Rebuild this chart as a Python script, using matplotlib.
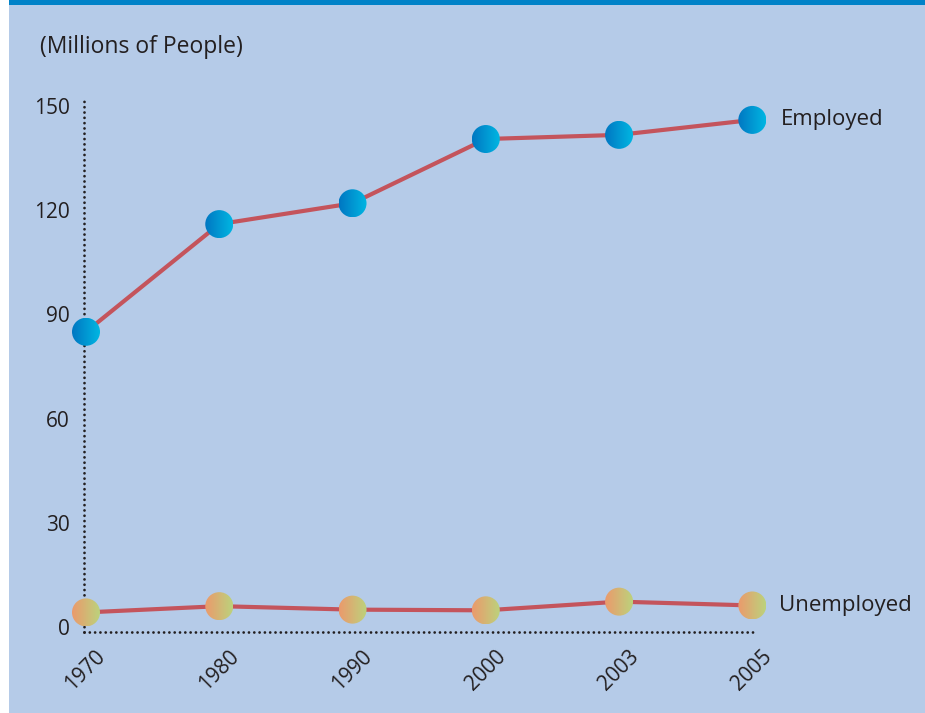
import numpy as np
import matplotlib
matplotlib.use('Agg')
import matplotlib.pyplot as plt
from matplotlib.patches import Ellipse, Rectangle
from matplotlib.colors import LinearSegmentedColormap
import matplotlib.transforms as mtransforms

plt.rcParams['font.family'] = ['Open Sans', 'DejaVu Sans']

# data (millions of people)
years = ['1970', '1980', '1990', '2000', '2003', '2005']
employed = [85, 116, 122, 140.5, 141.7, 146]
unemployed = [4.2, 6.0, 5.0, 4.8, 7.3, 6.2]
yticks = [0, 30, 60, 90, 120, 150]

bg = '#b5cbe8'
line_col = '#c4545c'
text_col = '#231f20'

W, H = 925, 713
fig = plt.figure(figsize=(W / 100, H / 100), dpi=100)
fig.patch.set_facecolor('white')

# background panel and the top stripe
fig.patches.append(Rectangle((9 / W, 0), 1 - 9 / W, 1, transform=fig.transFigure,
                             facecolor=bg, edgecolor='none', zorder=-2))
fig.patches.append(Rectangle((9 / W, 1 - 5 / H), 1 - 9 / W, 5 / H, transform=fig.transFigure,
                             facecolor='#0082c8', edgecolor='none', zorder=-1))

ax = fig.add_axes([84 / W, 1 - 632 / H, 671 / W, 535 / H])
ax.set_facecolor('none')
x = np.arange(len(years))
ax.set_xlim(-0.015, 5.02)
ax.set_ylim(-1.44, 152.6)

ax.plot(x, employed, color=line_col, lw=3, zorder=2, solid_capstyle='round')
ax.plot(x, unemployed, color=line_col, lw=3, zorder=2, solid_capstyle='round')

# gradient circle markers
blue_cm = LinearSegmentedColormap.from_list('b', ['#0077c2', '#00b6e2'])
warm_cm = LinearSegmentedColormap.from_list('w', ['#eb9a6c', '#bcd27c'])
inv = ax.transData.inverted()
r_px = 14
p0 = inv.transform((0, 0))
p1 = inv.transform((r_px, r_px))
rx, ry = p1[0] - p0[0], p1[1] - p0[1]
grad = np.linspace(0, 1, 64).reshape(1, -1)

def gradient_dot(cx, cy, cmap):
    im = ax.imshow(grad, cmap=cmap, extent=(cx - rx, cx + rx, cy - ry, cy + ry),
                   aspect='auto', interpolation='bilinear', zorder=3)
    clip = Ellipse((cx, cy), 2 * rx, 2 * ry, transform=ax.transData)
    im.set_clip_box(fig.bbox)
    im.set_clip_path(clip)

for xi, v in zip(x, employed):
    gradient_dot(xi, v, blue_cm)
for xi, v in zip(x, unemployed):
    gradient_dot(xi, v, warm_cm)

ax.set_xlim(-0.015, 5.02)
ax.set_ylim(-1.44, 152.6)

for s in ['top', 'right']:
    ax.spines[s].set_visible(False)
for s in ['left', 'bottom']:
    ax.spines[s].set_linestyle((0, (0.01, 1.9)))
    ax.spines[s].set_linewidth(2.0)
    ax.spines[s].set_capstyle('round')
    ax.spines[s].set_color(text_col)

ax.set_yticks(yticks)
ax.set_yticklabels([str(t) for t in yticks], fontsize=15, color=text_col)
ax.set_xticks(x)
ax.set_xticklabels(years, fontsize=15, color=text_col, rotation=45,
                   ha='right', va='top', rotation_mode='anchor')
ax.tick_params(length=0)
ax.tick_params(axis='y', pad=10)
ax.tick_params(axis='x', pad=10)
offset = mtransforms.ScaledTranslation(9 / 100, 0, fig.dpi_scale_trans)
for lbl in ax.get_xticklabels():
    lbl.set_transform(lbl.get_transform() + offset)

ax.annotate('Employed', (x[-1], employed[-1]), xytext=(29, 0), textcoords='offset pixels',
            fontsize=16, color=text_col, va='center', ha='left')
ax.annotate('Unemployed', (x[-1], unemployed[-1]), xytext=(27, 0), textcoords='offset pixels',
            fontsize=16, color=text_col, va='center', ha='left')

fig.text(40 / W, 1 - 47 / H, '(Millions of People)', fontsize=16.5, color=text_col,
         va='center', ha='left')

fig.savefig('out.png', dpi=100, facecolor=fig.get_facecolor())
